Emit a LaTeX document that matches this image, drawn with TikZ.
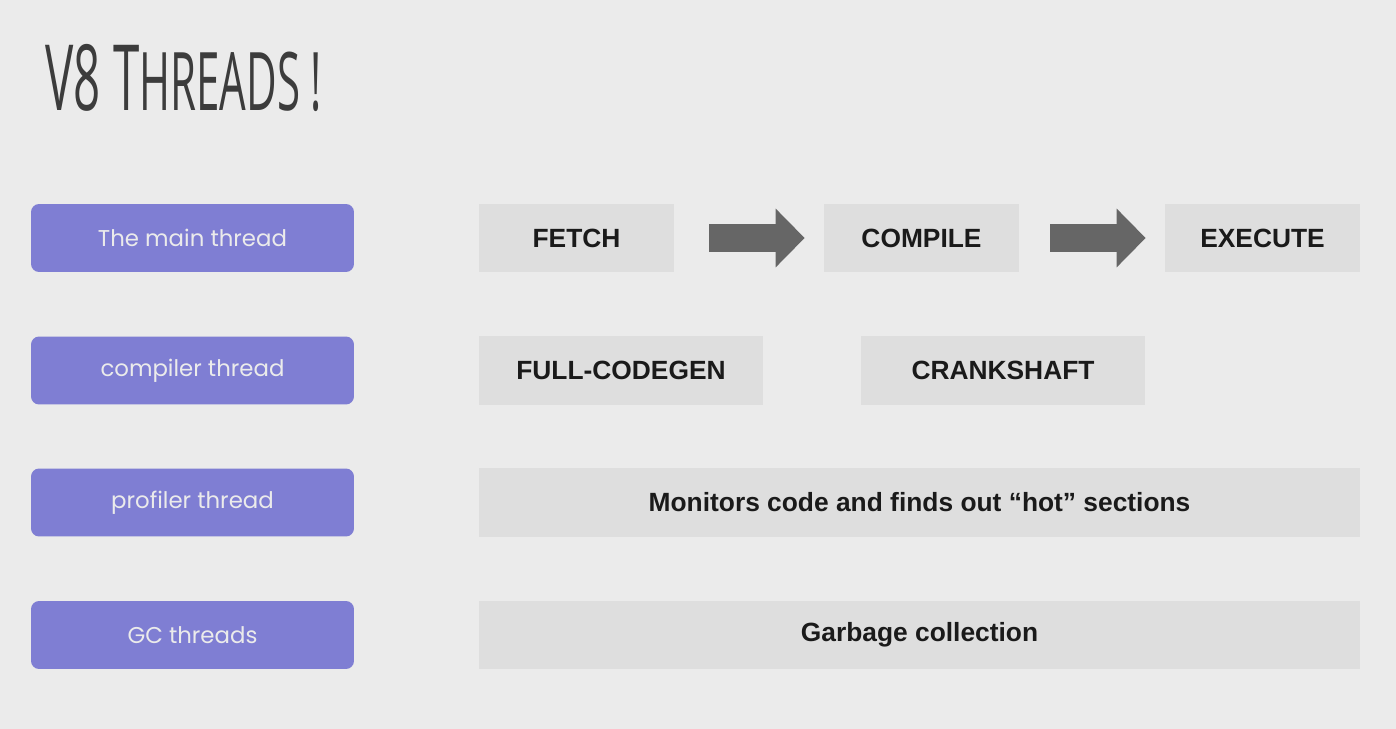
\documentclass[tikz,border=0pt]{standalone}
\usepackage{fontspec}
\setmainfont{Liberation Sans}
\newfontfamily\handfont{Poppins}
\newfontfamily\titlefont{Open Sans}
\usetikzlibrary{arrows.meta}
\definecolor{slidebg}{HTML}{EBEBEB}
\definecolor{threadpurple}{HTML}{7F7ED3}
\definecolor{stepgray}{HTML}{DEDEDE}
\definecolor{arrowgray}{HTML}{666666}
\definecolor{inkblack}{HTML}{1A1A1A}

\begin{document}
\begin{tikzpicture}[x=0.02cm,y=-0.02cm]

%
% Styles
%
\tikzstyle{thread} = [rectangle,rounded corners=0.16cm,fill=threadpurple,text=white!92!black,
  minimum width=6.46cm,minimum height=1.36cm,inner sep=0pt,
  font=\handfont\fontsize{13}{15}\selectfont]
\tikzstyle{stage} = [rectangle,fill=stepgray,text=inkblack,minimum height=1.38cm,inner sep=0pt,
  font=\bfseries\fontsize{15}{18}\selectfont]
\tikzstyle{flow} = [draw=arrowgray,line width=0.58cm,-{Triangle[length=0.58cm,width=1.14cm]}]

\fill[slidebg] (0,0) rectangle (1396,729);
\useasboundingbox (0,0) rectangle (1396,729);

\node[anchor=west,text=inkblack!85,inner sep=0pt] (title) at (45,78)
  {\titlefont\scalebox{0.52}[1]{\fontsize{52}{60}\selectfont V8 T\fontsize{46}{52}\selectfont HREADS !}};

\node[thread] (main) at (192.5,238)   {The main thread};
\node[thread] (comp) at (192.5,370.5) {compiler thread};
\node[thread] (prof) at (192.5,502.5) {profiler thread};
\node[thread] (gc)   at (192.5,635)   {GC threads};

\node[stage,minimum width=3.9cm] (fetch)   at ( 576.5,238) {FETCH};
\node[stage,minimum width=3.9cm] (compile) at ( 921.5,238) {COMPILE};
\node[stage,minimum width=3.9cm] (execute) at (1262.5,238) {EXECUTE};

\node[stage,minimum width=5.68cm] (full)  at ( 621,370.5) {FULL-CODEGEN};
\node[stage,minimum width=5.68cm] (crank) at (1003,370.5) {CRANKSHAFT};

\node[stage,minimum width=17.62cm] (hot)     at (919.5,502.5) {Monitors code and finds out “hot” sections};
\node[stage,minimum width=17.62cm] (garbage) at (919.5,635)   {Garbage collection};

\draw[flow,shorten <=0.7cm,shorten >=0.38cm] (fetch) -- (compile);
\draw[flow,shorten <=0.62cm,shorten >=0.38cm] (compile) -- (execute);

\end{tikzpicture}
\end{document}
